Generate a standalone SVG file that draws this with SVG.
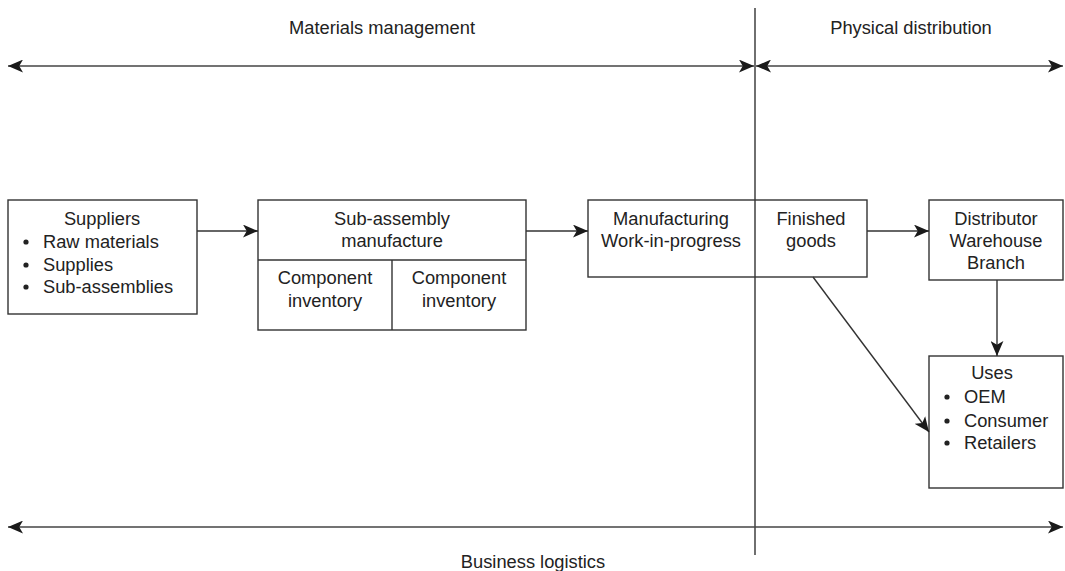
<svg xmlns="http://www.w3.org/2000/svg" width="1065" height="571" viewBox="0 0 1065 571">
<style>
text{font-family:"Liberation Sans",Arial,sans-serif;font-size:18.3px;fill:#222}
.c{text-anchor:middle}
.box{fill:#fff;stroke:#333;stroke-width:1.4}
.ln{fill:none;stroke:#333;stroke-width:1.4}
.ar{fill:none;stroke:#444;stroke-width:1.6}
</style>
<defs>
<marker id="ah" viewBox="0 0 14 12" refX="14" refY="6" markerWidth="15" markerHeight="13" markerUnits="userSpaceOnUse" orient="auto-start-reverse">
<path d="M0,0 L14,6 L0,12 L3.5,6 z" fill="#1a1a1a"/>
</marker>
</defs>
<g id="scope">
<line class="ln" x1="755" y1="8" x2="755" y2="555"/>
<line class="ar" x1="8" y1="66" x2="754" y2="66" marker-start="url(#ah)" marker-end="url(#ah)"/>
<line class="ar" x1="756" y1="66" x2="1063" y2="66" marker-start="url(#ah)" marker-end="url(#ah)"/>
<line class="ar" x1="8" y1="527" x2="1063" y2="527" marker-start="url(#ah)" marker-end="url(#ah)"/>
<text class="c" x="382" y="34">Materials management</text>
<text class="c" x="911" y="34">Physical distribution</text>
<text class="c" x="533" y="568">Business logistics</text>
</g>
<g id="suppliers">
<rect class="box" x="8" y="200" width="189" height="114"/>
<text class="c" x="102" y="225">Suppliers</text>
<circle cx="26" cy="242" r="2.6" fill="#222"/>
<circle cx="26" cy="265" r="2.6" fill="#222"/>
<circle cx="26" cy="287" r="2.6" fill="#222"/>
<text x="43" y="248">Raw materials</text>
<text x="43" y="271">Supplies</text>
<text x="43" y="293">Sub-assemblies</text>
</g>
<g id="subassembly">
<rect class="box" x="258" y="200" width="268" height="130"/>
<line class="ln" x1="258" y1="260" x2="526" y2="260"/>
<line class="ln" x1="392" y1="260" x2="392" y2="330"/>
<text class="c" x="392" y="225">Sub-assembly</text>
<text class="c" x="392" y="247">manufacture</text>
<text class="c" x="325" y="284">Component</text>
<text class="c" x="325" y="307">inventory</text>
<text class="c" x="459" y="284">Component</text>
<text class="c" x="459" y="307">inventory</text>
</g>
<g id="manufacturing">
<rect class="box" x="588" y="200" width="279" height="77"/>
<line class="ln" x1="755" y1="200" x2="755" y2="277"/>
<text class="c" x="671" y="225">Manufacturing</text>
<text class="c" x="671" y="247">Work-in-progress</text>
<text class="c" x="811" y="225">Finished</text>
<text class="c" x="811" y="247">goods</text>
</g>
<g id="distributor">
<rect class="box" x="929" y="200" width="134" height="80"/>
<text class="c" x="996" y="225">Distributor</text>
<text class="c" x="996" y="247">Warehouse</text>
<text class="c" x="996" y="269">Branch</text>
</g>
<g id="uses">
<rect class="box" x="929" y="356" width="134" height="132"/>
<text class="c" x="992" y="379">Uses</text>
<circle cx="947" cy="397" r="2.6" fill="#222"/>
<circle cx="947" cy="421" r="2.6" fill="#222"/>
<circle cx="947" cy="443" r="2.6" fill="#222"/>
<text x="964" y="403">OEM</text>
<text x="964" y="427">Consumer</text>
<text x="964" y="449">Retailers</text>
</g>
<g id="connectors">
<line class="ln" x1="197" y1="231" x2="258" y2="231" marker-end="url(#ah)"/>
<line class="ln" x1="526" y1="231" x2="588" y2="231" marker-end="url(#ah)"/>
<line class="ln" x1="867" y1="231" x2="929" y2="231" marker-end="url(#ah)"/>
<line class="ln" x1="997" y1="280" x2="997" y2="356" marker-end="url(#ah)"/>
<line class="ln" x1="813" y1="277" x2="929" y2="432" marker-end="url(#ah)"/>
</g>
</svg>
